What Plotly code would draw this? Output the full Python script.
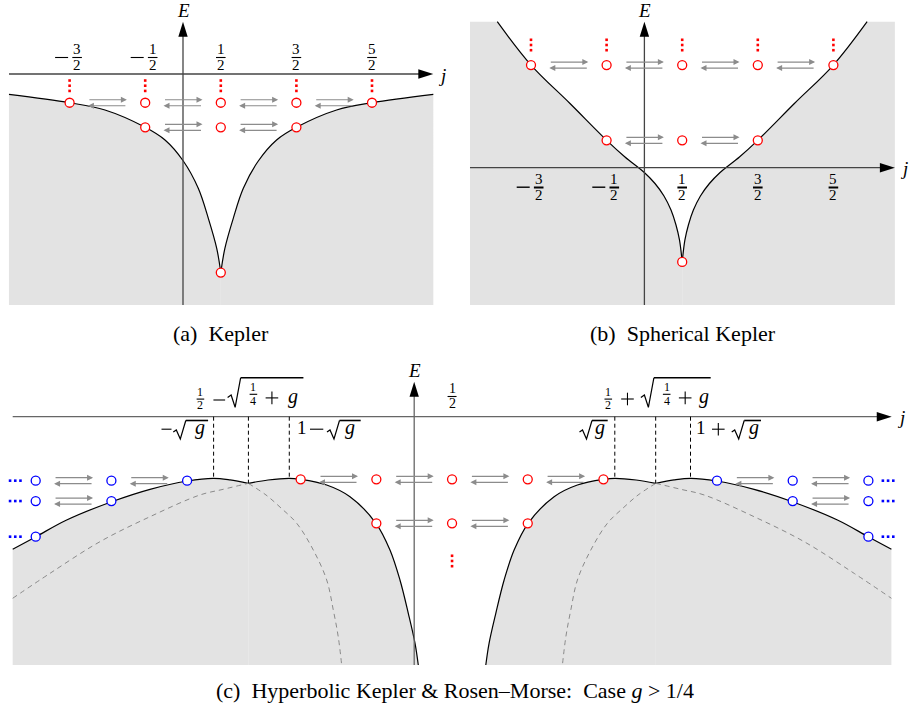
import plotly.graph_objects as go

W, H = 910, 713
FONT = "Liberation Serif, DejaVu Serif, serif"
GREY_FILL = "#e3e3e3"
ARROW_GREY = "#8c8c8c"
DASH_GREY = "#8a8a8a"

# ---------------- (a) Kepler ----------------
a_ticks = [-1.5, -0.5, 0.5, 1.5, 2.5]
a_tick_num = ["3", "1", "1", "3", "5"]
a_left_j = [-2.302, -1.5, -1.032, -0.5, -0.238, 0.004, 0.202, 0.335, 0.446, 0.5]
a_left_E = [-0.269, -0.380, -0.476, -0.705, -0.873, -1.151, -1.512, -1.909, -2.306, -2.626]
a_right_j = [0.5, 0.554, 0.665, 0.798, 0.996, 1.238, 1.5, 2.032, 2.5, 3.311]
a_right_E = [-2.626, -2.306, -1.909, -1.512, -1.151, -0.873, -0.705, -0.476, -0.380, -0.269]
a_row1_j = [-1.5, -0.5, 0.5, 1.5, 2.5]
a_row1_E = -0.380
a_row2_j = [-0.5, 0.5, 1.5]
a_row2_E = -0.705
a_ground_j = [0.5]
a_ground_E = -2.626
a_more_E = -0.155
a_row1_pairs = [-1.5, -0.5, 0.5, 1.5]
a_row2_pairs = [-0.5, 0.5]

# ---------------- (b) Spherical Kepler ----------------
b_ticks = [-1.5, -0.5, 0.5, 1.5, 2.5]
b_tick_num = ["3", "1", "1", "3", "5"]
b_left_j = [-1.946, -1.5, -0.984, -0.499, -0.257, -0.001, 0.140, 0.259, 0.352, 0.418, 0.464, 0.5]
b_left_E = [1.931, 1.358, 0.849, 0.362, 0.142, -0.063, -0.209, -0.374, -0.560, -0.758, -0.956, -1.247]
b_right_j = [0.5, 0.536, 0.582, 0.648, 0.741, 0.860, 1.001, 1.257, 1.499, 1.984, 2.5, 2.946]
b_right_E = [-1.247, -0.956, -0.758, -0.560, -0.374, -0.209, -0.063, 0.142, 0.362, 0.849, 1.358, 1.931]
b_row1_j = [-1.5, -0.5, 0.5, 1.5, 2.5]
b_row1_E = 1.358
b_row2_j = [-0.5, 0.5, 1.5]
b_row2_E = 0.362
b_ground_j = [0.5]
b_ground_E = -1.247
b_more_E = 1.623
b_row1_pairs = [-1.5, -0.5, 0.5, 1.5]
b_row2_pairs = [-0.5, 0.5]

# ---------------- (c) Hyperbolic Kepler & Rosen-Morse, g > 1/4 ----------------
cA_solid_j = [-5.304, -4.996, -4.591, -3.996, -3.490, -2.997, -2.654, -2.433, -2.192]
cA_solid_E = [-1.752, -1.585, -1.365, -1.123, -0.959, -0.849, -0.814, -0.835, -0.880]
cB_solid_j = [-2.192, -1.931, -1.650, -1.509, -1.156, -0.848, -0.505, -0.320, -0.188, -0.078, 0.011, 0.054]
cB_solid_E = [-0.880, -0.836, -0.814, -0.827, -0.902, -1.057, -1.408, -1.761, -2.157, -2.597, -2.993, -3.280]
cC_solid_j = [0.946, 0.989, 1.078, 1.188, 1.320, 1.505, 1.848, 2.156, 2.509, 2.650, 2.931, 3.192]
cC_solid_E = [-3.280, -2.993, -2.597, -2.157, -1.761, -1.408, -1.057, -0.902, -0.827, -0.814, -0.836, -0.880]
cD_solid_j = [3.192, 3.433, 3.654, 3.997, 4.490, 4.996, 5.591, 5.996, 6.304]
cD_solid_E = [-0.880, -0.835, -0.814, -0.849, -0.959, -1.123, -1.365, -1.585, -1.752]
cA_dash_j = [-2.192, -1.958, -1.760, -1.552, -1.333, -1.156, -1.069, -1.003, -0.958]
cA_dash_E = [-0.880, -1.034, -1.206, -1.408, -1.761, -2.157, -2.553, -2.910, -3.280]
cB_dash_j = [-5.304, -4.811, -4.151, -3.490, -2.830, -2.522, -2.192]
cB_dash_E = [-2.399, -2.069, -1.651, -1.321, -1.034, -0.959, -0.880]
cC_dash_j = [3.192, 3.522, 3.830, 4.490, 5.151, 5.811, 6.304]
cC_dash_E = [-0.880, -0.959, -1.034, -1.321, -1.651, -2.069, -2.399]
cD_dash_j = [3.192, 2.958, 2.760, 2.552, 2.333, 2.156, 2.069, 2.003, 1.958]
cD_dash_E = [-0.880, -1.034, -1.206, -1.408, -1.761, -2.157, -2.553, -2.910, -3.280]
c_bottom_E = -3.280
c_red_row1_j = [-1.5, -0.5, 0.5, 1.5, 2.5]
c_red_row1_E = -0.827
c_red_row2_j = [-0.5, 0.5, 1.5]
c_red_row2_E = -1.408
c_red_more_j = [0.5]
c_red_more_E = -1.906
c_blue_row1_j = [-5, -4, -3, 4, 5, 6]
c_blue_row1_E = -0.845
c_blue_row2_j = [-5, -4, 5, 6]
c_blue_row2_E = -1.114
c_blue_row3_j = [-5, 6]
c_blue_row3_E = -1.585
c_blue_more_j = [-5.27, 6.26]
c_special_j = [-2.65, -2.19, -1.65, 2.65, 3.19, 3.65]
c_special_E = [-0.814, -0.880, -0.814, -0.814, -0.880, -0.814]

# panel geometry: pixel box (l, r, t, b), pixel position of the origin, pixels per unit
PANELS = {
    "a": dict(xa="x", ya="y", box=(0, 455, 0, 318), origin=(183.0, 74.0), unit=75.6),
    "b": dict(xa="x2", ya="y2", box=(458, 910, 0, 318), origin=(644.4, 167.7), unit=75.6),
    "c": dict(xa="x3", ya="y3", box=(0, 910, 352, 672), origin=(414.2, 416.7), unit=75.7),
}

fig = go.Figure()


def refs(p):
    return dict(xaxis=PANELS[p]["xa"], yaxis=PANELS[p]["ya"])


def arefs(p):
    return dict(xref=PANELS[p]["xa"], yref=PANELS[p]["ya"])


def region(p, cj, cE, bj, bE):
    fig.add_trace(go.Scatter(x=bj, y=bE, mode="lines", line=dict(width=1, color="rgba(0,0,0,0)"),
                             hoverinfo="skip", **refs(p)))
    fig.add_trace(go.Scatter(x=cj, y=cE, mode="lines", fill="tonexty", fillcolor=GREY_FILL,
                             line=dict(color="black", width=1.2, shape="spline", smoothing=1),
                             hoverinfo="skip", **refs(p)))


def dashed(p, cj, cE):
    fig.add_trace(go.Scatter(x=cj, y=cE, mode="lines",
                             line=dict(color=DASH_GREY, width=1, dash="5px,4px", shape="spline", smoothing=1),
                             hoverinfo="skip", **refs(p)))


def dots(p, js, E, color):
    fig.add_trace(go.Scatter(x=js, y=[E] * len(js), mode="markers", cliponaxis=False,
                             marker=dict(symbol="circle", size=9, color="white", line=dict(color=color, width=1.3)),
                             hoverinfo="skip", **refs(p)))


def more(p, js, Es, color, vertical):
    step = 5.2 / PANELS[p]["unit"]
    xs, ys = [], []
    for j in js:
        for E in Es:
            for k in (-1, 0, 1):
                xs.append(j if vertical else j + k * step)
                ys.append(E + k * step if vertical else E)
    fig.add_trace(go.Scatter(x=xs, y=ys, mode="markers", cliponaxis=False,
                             marker=dict(symbol="square", size=2.6, color=color),
                             hoverinfo="skip", **refs(p)))


def exchange(p, lefts, E):
    u = PANELS[p]["unit"]
    half, off = 19.5 / u, 3.0 / u
    r = arefs(p)
    for jl in lefts:
        m = jl + 0.5
        for sgn in (1, -1):
            y = E + sgn * off
            fig.add_annotation(x=m + sgn * half, y=y, ax=m - sgn * half, ay=y,
                               axref=r["xref"], ayref=r["yref"], text="", showarrow=True,
                               arrowhead=2, arrowsize=1, arrowwidth=1.2, arrowcolor=ARROW_GREY,
                               standoff=0, startstandoff=0, **r)


def label(p, j, E, text, dx=0, dy=0, size=15, **kw):
    fig.add_annotation(x=j, y=E, text=text, showarrow=False, xshift=dx, yshift=dy, borderpad=0,
                       xanchor="center", yanchor="middle",
                       font=dict(family=FONT, size=size, color="black"), **arefs(p), **kw)


def pixshape(p, j, E, **kw):
    fig.add_shape(xsizemode="pixel", ysizemode="pixel", xanchor=j, yanchor=E, **arefs(p), **kw)


def bar(p, j, E, x0, x1, dy, width=1.1):
    pixshape(p, j, E, type="line", x0=x0, x1=x1, y0=dy, y1=dy, line=dict(color="black", width=width))


def plus(p, j, E, cx, cy, half=6.3, width=1.1):
    bar(p, j, E, cx - half, cx + half, cy, width)
    pixshape(p, j, E, type="line", x0=cx, x1=cx, y0=cy - half, y1=cy + half,
             line=dict(color="black", width=width))


def frac(p, j, E, num, den, dx, dy_num, dy_den, dy_bar, size=15, hw=4.8, bw=1.1):
    label(p, j, E, num, dx, dy_num, size)
    label(p, j, E, den, dx, dy_den, size)
    bar(p, j, E, dx - hw, dx + hw, dy_bar, bw)


def radical(p, j, E, pts, end, width=1.2, bar_w=1.6):
    path = "M " + " L ".join(f"{x},{y}" for x, y in pts)
    pixshape(p, j, E, type="path", path=path, line=dict(color="black", width=width))
    bar(p, j, E, pts[-1][0], end, pts[-1][1], bar_w)


def axes(p, j_lo, j_hi, E_lo, E_hi, color):
    u = PANELS[p]["unit"]
    r = arefs(p)
    fig.add_shape(type="line", x0=j_lo, x1=j_hi - 8 / u, y0=0, y1=0, line=dict(color=color, width=1.3), **r)
    fig.add_shape(type="line", x0=0, x1=0, y0=E_lo, y1=E_hi - 8 / u, line=dict(color=color, width=1.3), **r)
    pixshape(p, j_hi, 0, type="path", path="M 0,0 L -15,4.7 L -15,-4.7 Z",
             fillcolor="black", line=dict(width=0))
    pixshape(p, 0, E_hi, type="path", path="M 0,0 L 4.7,-15 L -4.7,-15 Z",
             fillcolor="black", line=dict(width=0))
    label(p, 0, E_hi, "<i>E</i>", 0, 11, 19)
    label(p, j_hi, 0, "<i>j</i>", 9, -1, 19)


# ---- panel (a)
region("a", a_left_j, a_left_E, [-2.302, 0.5], [-3.056, -3.056])
region("a", a_right_j, a_right_E, [0.5, 3.311], [-3.056, -3.056])
axes("a", -2.302, 3.311, -3.056, 0.692, "#444444")
exchange("a", a_row1_pairs, a_row1_E)
exchange("a", a_row2_pairs, a_row2_E)
dots("a", a_row1_j, a_row1_E, "red")
dots("a", a_row2_j, a_row2_E, "red")
dots("a", a_ground_j, a_ground_E, "red")
more("a", a_row1_j, [a_more_E], "red", True)
for j, num in zip(a_ticks, a_tick_num):
    dx = 7.5 if j < 0 else 0
    frac("a", j, 0, num, "2", dx, 24.6, 9.2, 16.5)
    if j < 0:
        bar("a", j, 0, -14.5, -1.5, 16.5, 1.1)

# ---- panel (b)
region("b", b_left_j, b_left_E, [-2.307, -2.307, 0.5], [1.931, -1.816, -1.816])
region("b", b_right_j, b_right_E, [0.5, 3.313, 3.313], [-1.816, -1.816, 1.931])
axes("b", -2.307, 3.313, -1.816, 1.931, "#444444")
exchange("b", b_row1_pairs, b_row1_E)
exchange("b", b_row2_pairs, b_row2_E)
dots("b", b_row1_j, b_row1_E, "red")
dots("b", b_row2_j, b_row2_E, "red")
dots("b", b_ground_j, b_ground_E, "red")
more("b", b_row1_j, [b_more_E], "red", True)
for j, num in zip(b_ticks, b_tick_num):
    dx = 7.7 if j < 0 else 0
    frac("b", j, 0, num, "2", dx, -11.6, -27.4, -19.8, bw=2)
    if j < 0:
        bar("b", j, 0, -14.3, -1.3, -19.5, 1.4)

# ---- panel (c)
region("c", cA_solid_j, cA_solid_E, [cA_solid_j[0], cA_solid_j[-1]], [c_bottom_E, c_bottom_E])
region("c", cB_solid_j, cB_solid_E, [cB_solid_j[0], cB_solid_j[-1]], [c_bottom_E, c_bottom_E])
region("c", cC_solid_j, cC_solid_E, [cC_solid_j[0], cC_solid_j[-1]], [c_bottom_E, c_bottom_E])
region("c", cD_solid_j, cD_solid_E, [cD_solid_j[0], cD_solid_j[-1]], [c_bottom_E, c_bottom_E])
dashed("c", cA_dash_j, cA_dash_E)
dashed("c", cB_dash_j, cB_dash_E)
dashed("c", cC_dash_j, cC_dash_E)
dashed("c", cD_dash_j, cD_dash_E)
axes("c", -5.304, 6.308, c_bottom_E, 0.462, "#666666")
for j, E in zip(c_special_j, c_special_E):
    fig.add_shape(type="line", x0=j, x1=j, y0=0, y1=E, line=dict(color="black", width=1, dash="4px,3px"),
                  **arefs("c"))
exchange("c", [-5, -4], c_blue_row1_E)
exchange("c", [-5], c_blue_row2_E)
exchange("c", [-1.5, -0.5, 0.5, 1.5], c_red_row1_E)
exchange("c", [-0.5, 0.5], c_red_row2_E)
exchange("c", [4, 5], c_blue_row1_E)
exchange("c", [5], c_blue_row2_E)
dots("c", c_red_row1_j, c_red_row1_E, "red")
dots("c", c_red_row2_j, c_red_row2_E, "red")
dots("c", c_blue_row1_j, c_blue_row1_E, "blue")
dots("c", c_blue_row2_j, c_blue_row2_E, "blue")
dots("c", c_blue_row3_j, c_blue_row3_E, "blue")
more("c", c_red_more_j, [c_red_more_E], "red", True)
more("c", c_blue_more_j, [c_blue_row1_E, c_blue_row2_E, c_blue_row3_E], "blue", False)

# j = 1/2 tick
frac("c", 0.5, 0, "1", "2", 0, 28.3, 13.1, 20.2, size=14, hw=4.5)

# 1/2 - sqrt(1/4 + g)   and   1/2 + sqrt(1/4 + g)
for k, j in ((0, c_special_j[1]), (1, c_special_j[4])):
    o = 6.0 * k
    frac("c", j, 0, "1", "2", -48 + 0.6 * k, 24.6, 12.2, 17.6, size=12, hw=3.8)
    if k == 0:
        bar("c", j, 0, -35, -23.3, 16.7, 1.1)
    else:
        plus("c", j, 0, -28.2, 17.7)
    radical("c", j, 0, [(-20.8 + o, 19.2), (-17.3 + o, 21.7), (-13.3 + o, 9.4), (-7.8 + o, 38.9)], 55)
    frac("c", j, 0, "1", "4", 5 + o, 29.3, 16.0, 22.4, size=12, hw=3.8)
    plus("c", j, 0, 23.5 + o, 18.8)
    label("c", j, 0, "<i>g</i>", 45 + 0.5 * o, 20.5, 20)

# -sqrt(g), 1 - sqrt(g), sqrt(g), 1 + sqrt(g)
rad_small = [(0, -15.3), (3, -13.3), (7, -22.3), (12.5, -3.8)]
j = c_special_j[0]
bar("c", j, 0, -52.1, -42.1, -12.5, 1.1)
radical("c", j, 0, [(x - 40.3, y) for x, y in rad_small], -5.5)
label("c", j, 0, "<i>g</i>", -13.5, -11, 20)
j = c_special_j[2]
label("c", j, 0, "1", 13.2, -10.5, 19)
bar("c", j, 0, 20.7, 34, -12.5, 1.1)
radical("c", j, 0, [(x + 37.7, y) for x, y in rad_small], 71.4)
label("c", j, 0, "<i>g</i>", 60.5, -11, 20)
j = c_special_j[3]
radical("c", j, 0, [(x - 35.3, y) for x, y in rad_small], -7.1)
label("c", j, 0, "<i>g</i>", -15, -11, 20)
j = c_special_j[5]
label("c", j, 0, "1", 10.7, -10.5, 19)
plus("c", j, 0, 27.8, -12.5)
radical("c", j, 0, [(x + 41.2, y) for x, y in rad_small], 70.5)
label("c", j, 0, "<i>g</i>", 63, -11, 20)

# captions
for text, px, py in [("(a)  Kepler", 221, 333), ("(b)  Spherical Kepler", 683, 333),
                     ("(c)  Hyperbolic Kepler &amp; Rosen–Morse:  Case <i>g</i> &gt; 1/4", 455, 690)]:
    fig.add_annotation(xref="paper", yref="paper", x=px / W, y=1 - py / H, text=text, showarrow=False,
                       xanchor="center", yanchor="middle",
                       font=dict(family=FONT, size=22, color="black"))

layout_axes = {}
for key, p in PANELS.items():
    l, r, t, b = p["box"]
    ox, oy = p["origin"]
    u = p["unit"]
    n = p["xa"][1:]
    layout_axes["xaxis" + n] = dict(domain=[l / W, r / W], range=[(l - ox) / u, (r - ox) / u],
                                    visible=False, anchor=p["ya"], fixedrange=True)
    layout_axes["yaxis" + n] = dict(domain=[1 - b / H, 1 - t / H], range=[(oy - b) / u, (oy - t) / u],
                                    visible=False, anchor=p["xa"], fixedrange=True)

fig.update_layout(width=W, height=H, margin=dict(l=0, r=0, t=0, b=0), showlegend=False,
                  paper_bgcolor="white", plot_bgcolor="white", **layout_axes)
fig.write_html("out.html", config=dict(displayModeBar=False),
               post_script="document.body.style.margin='0';document.body.style.overflow='hidden';")
